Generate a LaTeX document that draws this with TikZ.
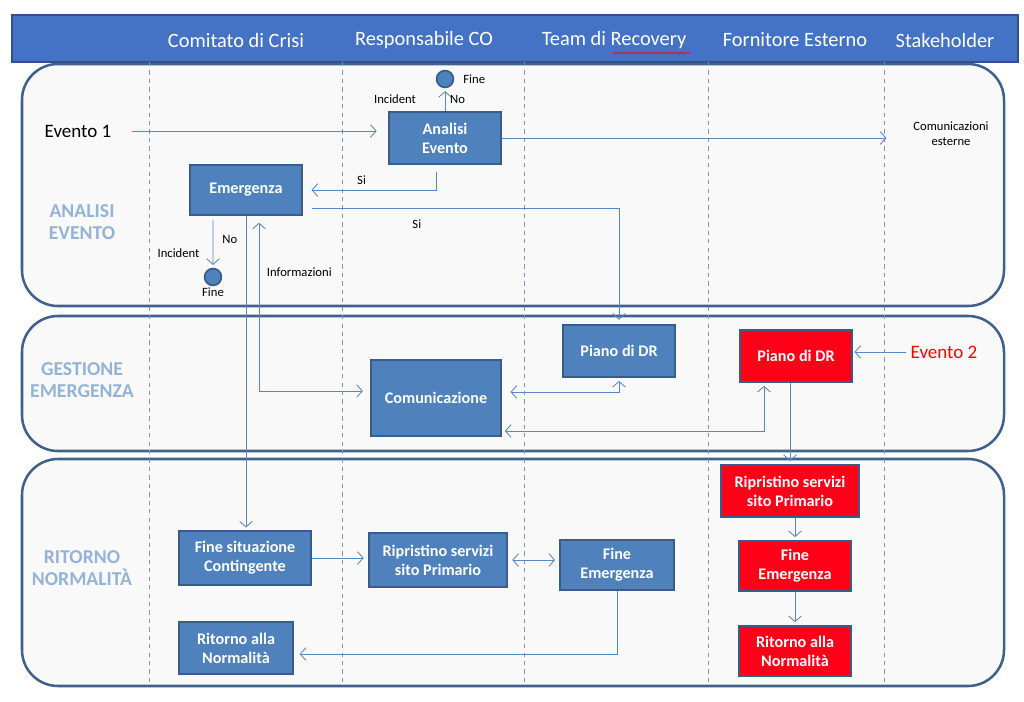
\documentclass[tikz,border=0pt]{standalone}
\usepackage{fontspec}
\setmainfont{Carlito}
\usetikzlibrary{arrows.meta,decorations.pathmorphing}
\definecolor{hdrblue}{HTML}{4472C4}
\definecolor{hdrline}{HTML}{2F528F}
\definecolor{boxblue}{HTML}{4F81BD}
\definecolor{boxline}{HTML}{385D8A}
\definecolor{boxred}{HTML}{FF0019}
\definecolor{laneline}{HTML}{41618C}
\definecolor{lanefill}{HTML}{F9F9FA}
\definecolor{lanetext}{HTML}{95B3D7}
\definecolor{flow}{HTML}{5A86C2}

\begin{document}
\begin{tikzpicture}[
  x=0.025cm, y=-0.025cm,
  font=\fontsize{9}{10.5}\selectfont,
  >={Straight Barb[length=4pt,width=9pt]},
  lane/.style={draw=laneline, fill=lanefill, line width=1.8pt, rounded corners=0.9cm},
  sep/.style={draw=flow!85, dashed, line width=0.5pt},
  act/.style={draw=boxline, fill=boxblue, line width=1.5pt, text=white, align=center,
              font=\fontsize{11.5}{13.5}\selectfont\bfseries, inner sep=2pt},
  actred/.style={act, fill=boxred},
  endpt/.style={circle, draw=boxline, fill=boxblue, line width=1.2pt,
                minimum size=0.42cm, inner sep=0pt},
  phase/.style={text=lanetext, align=center, font=\fontsize{14}{16}\selectfont\bfseries},
  role/.style={text=white, font=\fontsize{14.5}{16}\selectfont},
  evt/.style={font=\fontsize{13.5}{16}\selectfont},
  arr/.style={->, draw=flow, line width=0.6pt, shorten >=2pt},
  arrb/.style={<->, draw=flow, line width=0.6pt, shorten >=2pt, shorten <=2pt},
]
  \useasboundingbox (0,0) rectangle (1024,702);

  % header and lanes
  \draw[draw=hdrline, fill=hdrblue, line width=1.5pt] (12,15) rectangle (1018,62);
  \node[role] (crisi) at (236,40) {Comitato di Crisi};
  \node[role] (resp)  at (424,40) {Responsabile CO};
  \node[role] (team)  at (614,40) {Team di Recovery};
  \node[role] (forn)  at (795,40) {Fornitore Esterno};
  \node[role] (stake) at (945,40) {Stakeholder};
  \draw[red, line width=0.5pt, decorate, decoration={snake, amplitude=0.5pt, segment length=2.5pt}]
    (613,53) -- (690,53);

  \draw[lane] (22,64) rectangle (1004,306);
  \draw[lane] (22,316) rectangle (1004,451);
  \draw[lane] (22,459) rectangle (1004,686);
  \foreach \x in {149,342,524,708,884}
    \draw[sep] (\x,62) -- (\x,686);

  \node[phase] (ph1) at (82,222) {ANALISI\\EVENTO};
  \node[phase] (ph2) at (82,380) {GESTIONE\\EMERGENZA};
  \node[phase] (ph3) at (82,568) {RITORNO\\NORMALITÀ};

  % activities
  \node[act, minimum width=2.8cm, minimum height=1.3cm] (analisi) at (445,138) {Analisi\\Evento};
  \node[act, minimum width=2.8cm, minimum height=1.23cm] (emerg) at (246,190) {Emergenza};
  \node[endpt, label={[label distance=3pt]right:Fine}] (fine1) at (445,79) {};
  \node[endpt, label={[inner sep=1pt]below:Fine}] (fine2) at (213,277) {};
  \node[act, minimum width=2.8cm, minimum height=1.3cm] (pianob) at (619,351) {Piano di DR};
  \node[act, minimum width=3.25cm, minimum height=1.9cm] (comun) at (436,398) {Comunicazione};
  \node[actred, minimum width=2.8cm, minimum height=1.3cm] (pianor) at (796,356) {Piano di DR};
  \node[act, minimum width=3.28cm, minimum height=1.33cm] (finesit) at (245,558) {Fine situazione\\Contingente};
  \node[act, minimum width=3.45cm, minimum height=1.33cm] (riprb) at (438,560) {Ripristino servizi\\sito Primario};
  \node[act, minimum width=2.83cm, minimum height=1.25cm] (fineb) at (617,565) {Fine\\Emergenza};
  \node[act, minimum width=2.85cm, minimum height=1.28cm] (ritb) at (236,648) {Ritorno alla\\Normalità};
  \node[actred, minimum width=3.43cm, minimum height=1.3cm] (ripr) at (790,491) {Ripristino servizi\\sito Primario};
  \node[actred, minimum width=2.8cm, minimum height=1.25cm] (finer) at (795,566) {Fine\\Emergenza};
  \node[actred, minimum width=2.8cm, minimum height=1.25cm] (ritr) at (795,651) {Ritorno alla\\Normalità};

  \node[evt] (ev1) at (78,131) {Evento 1};
  \node[evt, text=red] (ev2) at (944,352) {Evento 2};
  \node[align=center] (comext) at (951,134) {Comunicazioni\\esterne};

  % flows
  \draw[arr, shorten <=11pt, shorten >=8pt] (ev1.east) -- (ev1.east -| analisi.west);
  \draw[arr, shorten >=0.55cm] (analisi.east) -- (analisi.east -| comext.west);
  \draw[arr] (analisi.north) -- node[right]{No} node[left=0.6cm]{Incident} (fine1.south);
  \draw[arr, shorten <=5pt, shorten >=6pt] ([xshift=-0.225cm]analisi.south) |- node[pos=0.78, above]{Si} (emerg.east);
  \draw[arr, shorten <=6pt, shorten >=3pt] ([yshift=-0.45cm]emerg.east) -| node[pos=0.18, below=5pt]{Si} (pianob.north);
  \draw[arr, shorten <=3pt] ([xshift=-0.825cm]emerg.south) -- node[pos=0.45, right=3pt]{No}
                            node[pos=0.72, left=6pt]{Incident} (fine2.north);
  \draw[arr] (emerg.south) -- (emerg.south |- finesit.north);
  \draw[arrb, shorten >=5pt, shorten <=5pt] ([xshift=0.325cm]emerg.south) |- node[pos=0.16, right=2pt]{Informazioni}
                                            ([yshift=0.175cm]comun.west);
  \draw[arrb, shorten <=6pt] ([yshift=0.15cm]comun.east) -| (pianob.south);
  \draw[arrb] ([yshift=-0.825cm]comun.east) -| ([xshift=-0.8cm]pianor.south);
  \draw[arr, shorten >=1pt] (ev2.west) -- (ev2.west -| pianor.east);
  \draw[arr] (pianor.south -| ripr.north) -- (ripr.north);
  \draw[arr] (ripr.south -| finer.north) -- (finer.north);
  \draw[arr] (finer.south) -- (ritr.north);
  \draw[arr, shorten >=3pt] (finesit.east) -- (finesit.east -| riprb.west);
  \draw[arrb, shorten >=3pt, shorten <=3pt] (riprb.east) -- (riprb.east -| fineb.west);
  \draw[arr, shorten >=4pt] (fineb.south) |- ([yshift=-0.15cm]ritb.east);
\end{tikzpicture}
\end{document}
